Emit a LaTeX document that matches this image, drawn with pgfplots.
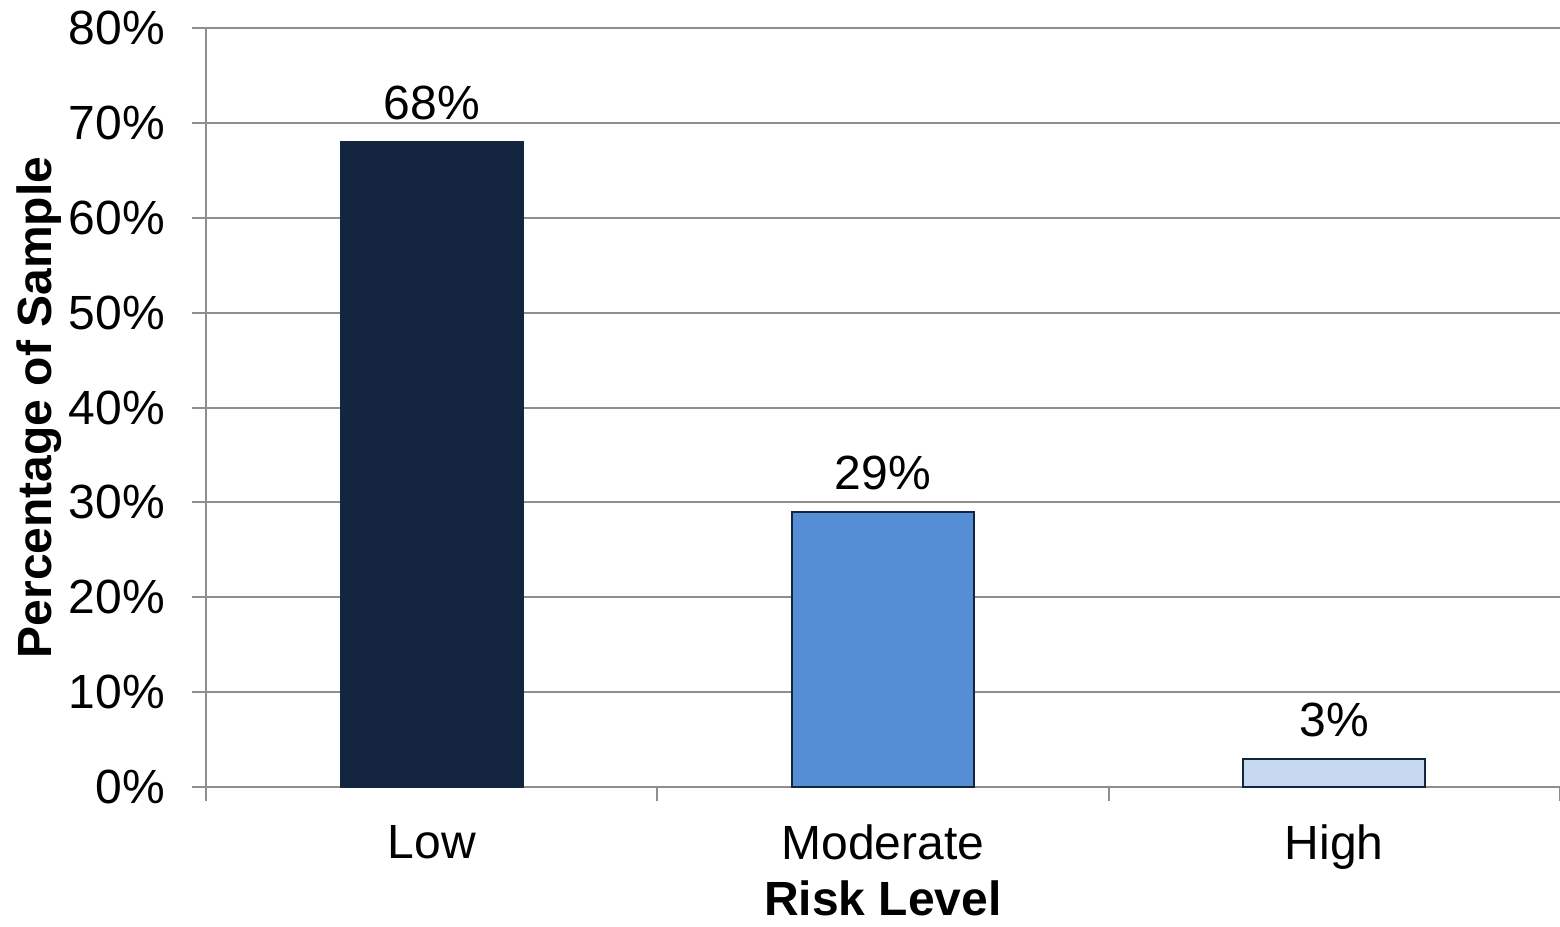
\documentclass[border=0pt]{standalone}
\usepackage{fontspec}
\setmainfont{Liberation Sans}
\usepackage{pgfplots}
\pgfplotsset{compat=1.18}

\definecolor{lowc}{HTML}{14263F}
\definecolor{modc}{HTML}{558ED5}
\definecolor{highc}{HTML}{C6D9F1}
\definecolor{gridc}{HTML}{8E8E8E}

\begin{document}
\begin{tikzpicture}
\begin{axis}[
  scale only axis,
  width=677pt, height=379.5pt,
  xmin=-0.5, xmax=2.5,
  ymin=0, ymax=80,
  ytick={0,10,...,80},
  % category boundaries carry the tick marks
  xtick={-0.5,0.5,1.5,2.5},
  xticklabels={},
  % category names sit at the bar centres without marks
  extra x ticks={0,1,2},
  extra x tick labels={Low,Moderate,High},
  extra x tick style={major tick length=0pt, grid=none,
    tick label style={yshift=-15.5pt}},
  axis x line*=bottom,
  axis y line*=left,
  axis line style={gridc, line width=1pt, -},
  ymajorgrids,
  grid style={gridc, line width=1pt},
  tick align=outside,
  major tick length=7pt,
  tick style={gridc, line width=1pt},
  /pgf/number format/assume math mode=true,
  yticklabel={\pgfmathprintnumber{\tick}\%},
  ticklabel style={font=\fontsize{24}{28}\selectfont, text=black},
  yticklabel style={xshift=-10pt},
  xlabel={\textbf{Risk Level}},
  ylabel={\textbf{Percentage of Sample}},
  label style={font=\fontsize{24}{28}\selectfont},
  xlabel style={at={(axis description cs:0.5,0)}, anchor=base, yshift=-64pt},
  ylabel style={yshift=-3.5pt},
  ybar, bar width=91pt, bar shift=0pt,
  nodes near coords={\pgfmathprintnumber{\pgfplotspointmeta}\%},
  nodes near coords style={font=\fontsize{24}{28}\selectfont, text=black, yshift=7pt},
  every axis plot/.append style={draw=lowc, line width=1pt},
  clip=false,
]
\addplot[fill=lowc] coordinates {(0,68)};
\addplot[fill=modc] coordinates {(1,29)};
\addplot[fill=highc] coordinates {(2,3)};
\end{axis}
\pgfresetboundingbox
\path (-103pt,-70pt) rectangle (677pt,393.5pt);
\end{tikzpicture}
\end{document}
